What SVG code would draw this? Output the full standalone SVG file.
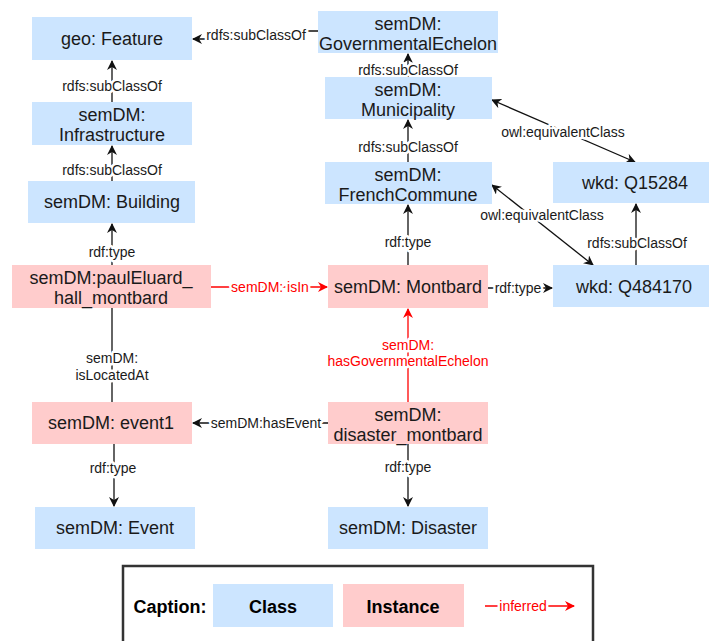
<svg xmlns="http://www.w3.org/2000/svg" width="709" height="641" viewBox="0 0 709 641">
<defs>
<style>
.cls{fill:#cce5ff}
.ins{fill:#ffcccc}
.nt{font-family:"Liberation Sans",Arial,sans-serif;font-size:18px;fill:#1a1a1a;text-anchor:middle}
.el{font-family:"Liberation Sans",Arial,sans-serif;font-size:14px;fill:#1a1a1a;text-anchor:middle;paint-order:stroke;stroke:#fff;stroke-width:5px;stroke-linejoin:round}
.er{fill:#ff0000}
.ln{fill:none;stroke:#111;stroke-width:1.3}
.lr{fill:none;stroke:#ff0000;stroke-width:1.3}
.bold{font-weight:bold;fill:#000}
</style>
<marker id="ab" viewBox="0 0 10 10" refX="9" refY="5" markerWidth="10" markerHeight="10" orient="auto-start-reverse" markerUnits="userSpaceOnUse">
<path d="M0,0 L10,5 L0,10 L3,5 z" fill="#111"/>
</marker>
<marker id="ar" viewBox="0 0 10 10" refX="9" refY="5" markerWidth="10" markerHeight="10" orient="auto-start-reverse" markerUnits="userSpaceOnUse">
<path d="M0,0 L10,5 L0,10 L3,5 z" fill="#ff0000"/>
</marker>
</defs>
<rect width="709" height="641" fill="#fff"/>

<g id="connectors">
<polyline class="ln" points="318,31 256,31 256,39 193,39" marker-end="url(#ab)"/>
<text class="el" x="256" y="40">rdfs:subClassOf</text>
<line class="ln" x1="112" y1="102" x2="112" y2="61" marker-end="url(#ab)"/>
<text class="el" x="112" y="91">rdfs:subClassOf</text>
<line class="ln" x1="112" y1="181" x2="112" y2="146" marker-end="url(#ab)"/>
<text class="el" x="112" y="175">rdfs:subClassOf</text>
<line class="ln" x1="112" y1="265" x2="112" y2="224" marker-end="url(#ab)"/>
<text class="el" x="112" y="257">rdf:type</text>
<line class="ln" x1="112" y1="308" x2="112" y2="402"/>
<text class="el" x="112" y="363">semDM:</text>
<text class="el" x="112" y="380">isLocatedAt</text>
<line class="lr" x1="211" y1="287" x2="327" y2="287" marker-end="url(#ar)"/>
<text class="el er" x="270" y="292">semDM: isIn</text>
<line class="ln" x1="408" y1="265" x2="408" y2="205" marker-end="url(#ab)"/>
<text class="el" x="408" y="247">rdf:type</text>
<line class="ln" x1="408" y1="162" x2="408" y2="120" marker-end="url(#ab)"/>
<text class="el" x="408" y="152">rdfs:subClassOf</text>
<line class="ln" x1="408" y1="77" x2="408" y2="54" marker-end="url(#ab)"/>
<text class="el" x="408" y="75">rdfs:subClassOf</text>
<line class="ln" x1="492" y1="100" x2="635" y2="162" marker-start="url(#ab)" marker-end="url(#ab)"/>
<text class="el" x="563" y="137">owl:equivalentClass</text>
<line class="ln" x1="492" y1="185" x2="593" y2="265" marker-start="url(#ab)" marker-end="url(#ab)"/>
<text class="el" x="542" y="220">owl:equivalentClass</text>
<line class="ln" x1="636" y1="265" x2="636" y2="204" marker-end="url(#ab)"/>
<text class="el" x="637" y="248">rdfs:subClassOf</text>
<line class="ln" x1="488" y1="288" x2="552" y2="288" marker-end="url(#ab)"/>
<text class="el" x="518" y="293">rdf:type</text>
<line class="lr" x1="408" y1="402" x2="408" y2="309" marker-end="url(#ar)"/>
<text class="el er" x="408" y="350">semDM:</text>
<text class="el er" x="408" y="366">hasGovernmentalEchelon</text>
<line class="ln" x1="328" y1="423" x2="193" y2="423" marker-end="url(#ab)"/>
<text class="el" x="266" y="428">semDM:hasEvent</text>
<line class="ln" x1="114" y1="444" x2="114" y2="506" marker-end="url(#ab)"/>
<text class="el" x="113" y="473">rdf:type</text>
<line class="ln" x1="408" y1="444" x2="408" y2="506" marker-end="url(#ab)"/>
<text class="el" x="408" y="472">rdf:type</text>
</g>

<g id="n-feature"><rect class="cls" x="32" y="17" width="160" height="43"/><text class="nt" x="112" y="45">geo: Feature</text></g>
<g id="n-infrastructure"><rect class="cls" x="32" y="102" width="160" height="43"/><text class="nt" x="112" y="121">semDM:</text><text class="nt" x="112" y="141">Infrastructure</text></g>
<g id="n-building"><rect class="cls" x="28" y="181" width="167" height="42"/><text class="nt" x="112" y="208">semDM: Building</text></g>
<g id="n-paul"><rect class="ins" x="12" y="265" width="199" height="43"/><text class="nt" x="111" y="284">semDM:paulEluard_</text><text class="nt" x="111" y="304">hall_montbard</text></g>
<g id="n-event1"><rect class="ins" x="32" y="402" width="160" height="42"/><text class="nt" x="111" y="429">semDM: event1</text></g>
<g id="n-event"><rect class="cls" x="35" y="507" width="160" height="42"/><text class="nt" x="115" y="534">semDM: Event</text></g>

<g id="n-gov"><rect class="cls" x="318" y="11" width="180" height="42"/><text class="nt" x="408" y="30">semDM:</text><text class="nt" x="408" y="50">GovernmentalEchelon</text></g>
<g id="n-municipality"><rect class="cls" x="325" y="77" width="167" height="42"/><text class="nt" x="408" y="96">semDM:</text><text class="nt" x="408" y="116">Municipality</text></g>
<g id="n-commune"><rect class="cls" x="325" y="162" width="167" height="42"/><text class="nt" x="408" y="181">semDM:</text><text class="nt" x="408" y="201">FrenchCommune</text></g>
<g id="n-montbard"><rect class="ins" x="328" y="265" width="160" height="43"/><text class="nt" x="408" y="293">semDM: Montbard</text></g>
<g id="n-disaster-montbard"><rect class="ins" x="328" y="402" width="160" height="42"/><text class="nt" x="408" y="421">semDM:</text><text class="nt" x="408" y="441">disaster_montbard</text></g>
<g id="n-disaster"><rect class="cls" x="328" y="507" width="160" height="42"/><text class="nt" x="408" y="534">semDM: Disaster</text></g>

<g id="n-q15284"><rect class="cls" x="553" y="162" width="162" height="41"/><text class="nt" x="635" y="189">wkd: Q15284</text></g>
<g id="n-q484170"><rect class="cls" x="553" y="265" width="162" height="42"/><text class="nt" x="634" y="293">wkd: Q484170</text></g>

<g id="caption">
<rect x="123" y="566" width="470" height="90" fill="#fff" stroke="#333" stroke-width="2.5"/>
<text class="nt bold" x="170" y="613">Caption:</text>
<rect class="cls" x="213" y="584" width="120" height="43"/>
<text class="nt bold" x="273" y="613">Class</text>
<rect class="ins" x="343" y="584" width="121" height="43"/>
<text class="nt bold" x="403" y="613">Instance</text>
<line class="lr" x1="485" y1="606" x2="574" y2="606" marker-end="url(#ar)"/>
<text class="el er" x="523" y="611">inferred</text>
</g>
</svg>
